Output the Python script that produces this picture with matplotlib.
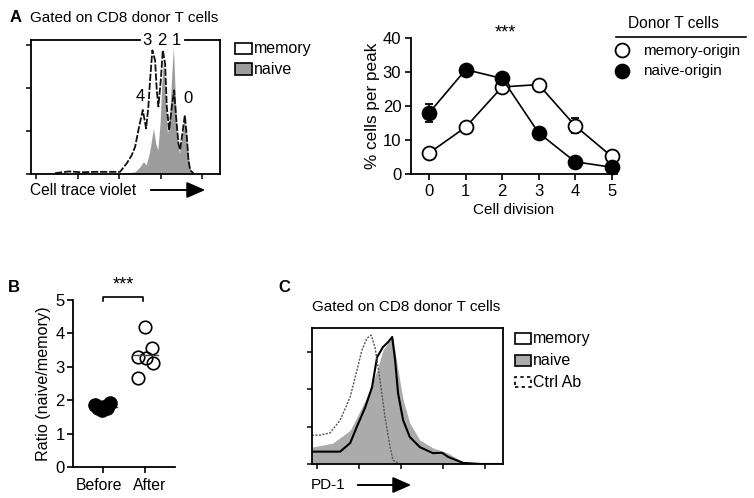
import matplotlib
matplotlib.use("Agg")
import matplotlib.pyplot as plt
from matplotlib.patches import Rectangle
from matplotlib.transforms import ScaledTranslation
import numpy as np

plt.rcParams['font.family'] = ['Liberation Sans', 'DejaVu Sans']

W, H = 754, 498

# ---------------- data ----------------
# Panel A histogram (cell trace violet), x in decades, y in arbitrary units
hist_a_x_memory = [0.46, 0.8, 1.1, 1.4, 1.7, 2.024, 2.186, 2.306, 2.386, 2.465, 2.571, 2.651,
                   2.706, 2.747, 2.802, 2.867, 2.908, 2.947, 3.005, 3.053, 3.108, 3.149,
                   3.205, 3.270, 3.325, 3.373, 3.429, 3.470, 3.535, 3.583, 3.631, 3.670,
                   3.711, 3.790]
hist_a_memory = [0.02, 0.06, 0.04, 0.05, 0.05, 0.05, 0.25, 0.44, 0.63, 1.02, 1.49, 1.06,
                 1.57, 2.19, 2.88, 2.65, 1.95, 1.57, 2.19, 2.88, 2.57, 1.57,
                 1.02, 1.57, 1.95, 1.33, 0.71, 0.56, 1.02, 1.37, 0.87, 0.33,
                 0.09, 0.02]
hist_a_x_naive = [2.104, 2.386, 2.506, 2.586, 2.651, 2.730, 2.827, 2.884, 2.933, 2.988,
                  3.029, 3.067, 3.108, 3.164, 3.212, 3.270, 3.308, 3.349, 3.390, 3.453,
                  3.518, 3.574, 3.631, 3.687, 3.735, 3.783]
hist_a_naive = [0.02, 0.05, 0.17, 0.29, 0.21, 0.48, 1.06, 0.71, 0.56, 1.18,
                2.11, 2.65, 1.95, 0.95, 1.18, 2.34, 2.96, 1.95, 0.95, 0.48,
                0.87, 1.26, 0.79, 0.25, 0.05, 0.0]
peak_labels = ['4', '3', '2', '1', '0']
peak_label_x = [2.51, 2.67, 3.04, 3.37, 3.67]
peak_label_y = [1.80, 3.12, 3.12, 3.12, 1.76]

# Panel A line plot
divisions = [0, 1, 2, 3, 4, 5]
memory_origin = [6.2, 13.8, 25.6, 26.3, 14.2, 5.2]
memory_origin_err = [0.5, 0.5, 0.6, 0.5, 2.2, 0.5]
naive_origin = [18.0, 30.7, 28.1, 12.1, 3.6, 2.0]
naive_origin_err = [2.7, 0.6, 1.5, 0.5, 0.4, 0.3]

# Panel B
b_categories = ['Before', 'After']
before_vals = [1.86, 1.91, 1.71, 1.77, 1.77, 1.81]
before_jitter = [-0.19, 0.17, -0.03, -0.12, 0.09, 0.0]
after_vals = [4.18, 3.55, 3.30, 3.25, 3.10, 2.67]
after_jitter = [0.0, 0.16, -0.16, 0.02, 0.18, -0.16]

# Panel C histogram (PD-1)
hist_c_x_ctrl = [-0.12, 0.07, 0.31, 0.55, 0.79, 0.95, 1.07, 1.19, 1.29, 1.38, 1.50, 1.62,
                 1.74, 1.81, 1.98, 4.43]
hist_c_ctrl = [0.77, 0.77, 0.83, 1.17, 1.79, 2.50, 3.04, 3.36, 3.44, 3.12, 2.24, 1.25,
               0.45, 0.10, 0.0, 0.0]
hist_c_x_memory = [-0.12, 0.55, 0.79, 0.95, 1.14, 1.31, 1.43, 1.57, 1.69, 1.79, 1.86, 1.93,
                   2.05, 2.21, 2.45, 2.76, 2.98, 3.12, 3.48, 3.90, 4.43]
hist_c_memory = [0.33, 0.33, 0.56, 1.00, 1.49, 2.05, 2.85, 3.12, 3.25, 3.39, 2.77, 1.89,
                 1.17, 0.72, 0.45, 0.29, 0.30, 0.19, 0.03, 0.0, 0.0]
hist_c_x_naive = [-0.12, 0.38, 0.79, 0.95, 1.19, 1.43, 1.57, 1.74, 1.81, 1.93, 2.05, 2.21,
                  2.45, 2.76, 3.12, 3.48, 3.90, 4.43]
hist_c_naive = [0.45, 0.56, 0.90, 1.25, 1.79, 2.50, 3.04, 3.31, 3.36, 2.50, 1.71, 1.09,
                0.64, 0.43, 0.29, 0.05, 0.0, 0.0]

# ---------------- helpers ----------------
def fx(px):
    return px / W

def fy(py):
    return 1 - py / H

def ax_rect(l, t, r, b):
    return [fx(l), fy(b), fx(r) - fx(l), fy(t) - fy(b)]

fig = plt.figure(figsize=(W / 100, H / 100), dpi=100)

GRAY_A = '#9c9c9c'
GRAY_C = '#ababab'
LW = 1.3

def ftext(px, py, s, **kw):
    fig.text(fx(px), fy(py), s, **kw)

def frect(l, t, r, b, **kw):
    fig.patches.append(Rectangle((fx(l), fy(b)), fx(r) - fx(l), fy(t) - fy(b),
                                 transform=fig.transFigure, **kw))

def farrow(x0, x1, py):
    fig.patches.append(matplotlib.patches.FancyArrowPatch(
        (fx(x0), fy(py)), (fx(x1), fy(py)), transform=fig.transFigure,
        arrowstyle='-|>,head_length=0.8,head_width=0.35', mutation_scale=14,
        color='black', lw=1.4))

# ---------------- Panel A histogram ----------------
axh = fig.add_axes(ax_rect(31, 40, 220, 174))
axh.fill_between(hist_a_x_naive, hist_a_naive, color=GRAY_A, lw=0)
axh.plot(hist_a_x_memory, hist_a_memory, color='#111111', lw=1.3, ls=(0, (4, 1)))
axh.set_xlim(-0.12, 4.43)
axh.set_ylim(0, 3.12)
axh.set_xticks([0, 1, 2, 3, 4])
axh.set_yticks([0, 1, 2, 3])
axh.set_xticklabels([])
axh.set_yticklabels([])
axh.tick_params(direction='out', length=3.5, width=1.1)
for s in axh.spines.values():
    s.set_linewidth(LW)
axh.spines['top'].set_visible(False)
gap_l = (140 - 31) / 189
gap_r = (185 - 31) / 189
axh.plot([0, gap_l], [1, 1], transform=axh.transAxes, color='black', lw=LW, clip_on=False)
axh.plot([gap_r, 1], [1, 1], transform=axh.transAxes, color='black', lw=LW, clip_on=False)
for lab, lx, ly in zip(peak_labels, peak_label_x, peak_label_y):
    axh.text(lx, ly, lab, ha='center', va='center', fontsize=12)

ftext(10, 18, 'A', fontsize=12, fontweight='bold', ha='left', va='center')
ftext(30, 18, 'Gated on CD8 donor T cells', fontsize=11, ha='left', va='center')
ftext(30, 190, 'Cell trace violet', fontsize=11.2, ha='left', va='center')
farrow(148, 208, 190)
frect(235, 43, 252, 54, facecolor='white', edgecolor='black', lw=1.2)
frect(235, 63, 252, 75, facecolor=GRAY_A, edgecolor='black', lw=1.2)
ftext(254, 48.5, 'memory', fontsize=11.5, ha='left', va='center')
ftext(254, 69, 'naive', fontsize=11.5, ha='left', va='center')

# ---------------- Panel A line plot ----------------
axl = fig.add_axes(ax_rect(411, 38, 617, 174))
axl.errorbar(divisions, memory_origin, yerr=memory_origin_err, color='black', lw=1.2,
             marker='o', ms=10, mfc='white', mec='black', mew=1.3, capsize=3,
             elinewidth=1.1, capthick=1.1, clip_on=False, zorder=3)
axl.errorbar(divisions, naive_origin, yerr=naive_origin_err, color='black', lw=1.2,
             marker='o', ms=10, mfc='black', mec='black', mew=1.3, capsize=3,
             elinewidth=1.1, capthick=1.1, clip_on=False, zorder=3)
axl.set_xlim(-0.5, 5.15)
axl.set_ylim(0, 40)
axl.set_xticks(divisions)
axl.set_yticks([0, 10, 20, 30, 40])
axl.tick_params(direction='out', length=4, width=1.2, labelsize=12, pad=3)
for s in ['top', 'right']:
    axl.spines[s].set_visible(False)
for s in ['left', 'bottom']:
    axl.spines[s].set_linewidth(1.3)
axl.set_xlabel('Cell division', fontsize=11, labelpad=3)
axl.set_ylabel('% cells per peak', fontsize=12.3, labelpad=2)
axl.text(2.1, 41.6, '***', ha='center', va='center', fontsize=13)

ftext(673, 24, 'Donor T cells', fontsize=11.2, ha='center', va='center')
fig.lines.append(matplotlib.lines.Line2D([fx(616), fx(746)], [fy(37), fy(37)],
                                         transform=fig.transFigure, color='black', lw=1.2))
fig.lines.append(matplotlib.lines.Line2D([fx(621.5)], [fy(50.5)], transform=fig.transFigure,
                                         marker='o', ms=10, mfc='white', mec='black', mew=1.3))
fig.lines.append(matplotlib.lines.Line2D([fx(621.5)], [fy(71.5)], transform=fig.transFigure,
                                         marker='o', ms=10, mfc='black', mec='black', mew=1.3))
ftext(643, 50.5, 'memory-origin', fontsize=11, ha='left', va='center')
ftext(643, 71.5, 'naive-origin', fontsize=11, ha='left', va='center')

# ---------------- Panel B ----------------
axb = fig.add_axes(ax_rect(73, 300, 175, 467))
axb.plot(np.array(before_jitter) + 0, before_vals, 'o', ms=9.5, mfc='black', mec='black',
         clip_on=False, zorder=3)
axb.plot(np.array(after_jitter) + 1, after_vals, 'o', ms=9, mfc='none', mec='black', mew=1.2,
         clip_on=False, zorder=3)
axb.plot([-0.31, 0.33], [np.mean(before_vals)] * 2, color='#444444', lw=1.0, zorder=2)
axb.plot([1 - 0.29, 1 + 0.31], [np.mean(after_vals)] * 2, color='#444444', lw=1.0, zorder=4)
axb.set_xlim(-0.71, 1.71)
axb.set_ylim(0, 5)
axb.set_xticks([0, 1])
axb.set_xticklabels(b_categories)
axb.set_yticks([0, 1, 2, 3, 4, 5])
axb.tick_params(direction='out', length=4, width=1.2, labelsize=12, pad=2)
axb.tick_params(axis='x', labelsize=11.3, pad=4)
for lbl, dx in zip(axb.get_xticklabels(), [-3.5, 5.0]):
    lbl.set_transform(lbl.get_transform() + ScaledTranslation(dx / 100, 0, fig.dpi_scale_trans))
for s in ['top', 'right']:
    axb.spines[s].set_visible(False)
for s in ['left', 'bottom']:
    axb.spines[s].set_linewidth(1.3)
axb.set_ylabel('Ratio (naive/memory)', fontsize=11.6, labelpad=3)
axb.plot([0, 0, 0.96, 0.96], [4.98, 5.1, 5.1, 4.98], color='black', lw=1.2, clip_on=False)
axb.text(0.48, 5.45, '***', ha='center', va='center', fontsize=13)
ftext(8, 287, 'B', fontsize=12, fontweight='bold', ha='left', va='center')

# ---------------- Panel C ----------------
axc = fig.add_axes(ax_rect(312, 328, 503, 464))
axc.fill_between(hist_c_x_naive, hist_c_naive, color=GRAY_C, lw=0)
axc.plot(hist_c_x_memory, hist_c_memory, color='black', lw=1.5)
axc.plot(hist_c_x_ctrl, hist_c_ctrl, color='#555555', lw=1.0, ls=(0, (1.5, 1)))
axc.set_xlim(-0.12, 4.43)
axc.set_ylim(0, 3.63)
axc.set_xticks([0, 1, 2, 3, 4])
axc.set_yticks([0, 1, 2, 3])
axc.set_xticklabels([])
axc.set_yticklabels([])
axc.tick_params(direction='out', length=3.5, width=1.1)
for s in axc.spines.values():
    s.set_linewidth(LW)

ftext(278, 288, 'C', fontsize=12, fontweight='bold', ha='left', va='center')
ftext(312, 307, 'Gated on CD8 donor T cells', fontsize=11, ha='left', va='center')
ftext(311, 485, 'PD-1', fontsize=11, ha='left', va='center')
farrow(355, 414, 485)
frect(515, 333, 531, 344, facecolor='white', edgecolor='black', lw=1.2)
frect(515, 355, 531, 366, facecolor=GRAY_C, edgecolor='black', lw=1.2)
frect(515, 377, 531, 387, facecolor='white', edgecolor='black', lw=1.2, ls=(0, (2, 2)))
ftext(533, 338.5, 'memory', fontsize=11.5, ha='left', va='center')
ftext(533, 360.5, 'naive', fontsize=11.5, ha='left', va='center')
ftext(533, 382, 'Ctrl Ab', fontsize=11.5, ha='left', va='center')

fig.savefig('out.png', dpi=100)
